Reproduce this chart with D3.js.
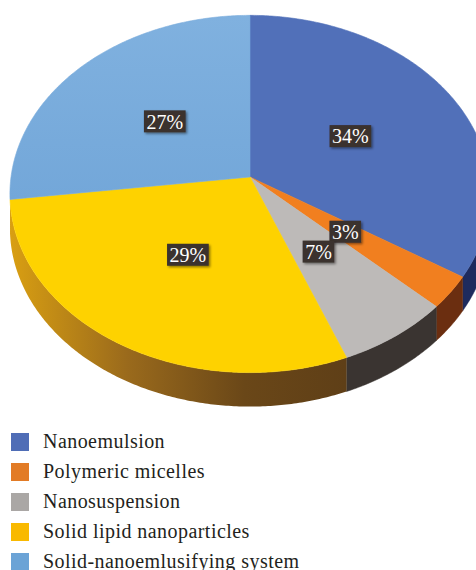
<!DOCTYPE html>
<html>
<head>
<meta charset="utf-8">
<script src="https://cdn.jsdelivr.net/npm/d3@7"></script>
<style>
  html, body { margin: 0; padding: 0; background: #fff; }
  svg { display: block; }
</style>
</head>
<body>
<svg id="chart" width="476" height="570"></svg>
<script>
const categories = ["Nanoemulsion", "Polymeric micelles", "Nanosuspension", "Solid lipid nanoparticles", "Solid-nanoemlusifying system"];
const shares = [34, 3, 7, 29, 27];
const labels = ["34%", "3%", "7%", "29%", "27%"];

const topColors = ["#5170b9", "#f17f1f", "#bdbab8", "#fed200", "#7bacdc"];
const wallColors = ["#1e2b5e", "#6b2e10", "#3a3431", null, null];
const legendColors = ["#4f6db6", "#e27b25", "#aaa7a5", "#f9b900", "#6ba3d6"];

const width = 476;
const height = 570;

const cx = 250;
const cy = 177;
const rx = 239;
const ry = 177;
const persp = 0.095;
const depth = 34;
const labelRadius = 0.49;

const svg = d3.select("#chart");
const defs = svg.append("defs");

const shadow = defs.append("filter")
  .attr("id", "lblShadow")
  .attr("x", "-20%").attr("y", "-20%")
  .attr("width", "150%").attr("height", "160%");
shadow.append("feDropShadow")
  .attr("dx", 1.5).attr("dy", 1.5)
  .attr("stdDeviation", 1.2)
  .attr("flood-color", "#000")
  .attr("flood-opacity", 0.45);

// yellow wall gradient
const yg = defs.append("linearGradient")
  .attr("id", "yellowWall")
  .attr("gradientUnits", "userSpaceOnUse")
  .attr("x1", 10).attr("y1", 0).attr("x2", 345).attr("y2", 0);
yg.append("stop").attr("offset", "0%").attr("stop-color", "#d99f12");
yg.append("stop").attr("offset", "35%").attr("stop-color", "#9a6a1c");
yg.append("stop").attr("offset", "70%").attr("stop-color", "#6a4718");
yg.append("stop").attr("offset", "100%").attr("stop-color", "#5f3f17");

const bg = defs.append("linearGradient")
  .attr("id", "blueTop")
  .attr("x1", 0).attr("y1", 0).attr("x2", 0).attr("y2", 1);
bg.append("stop").attr("offset", "0%").attr("stop-color", "#80b1df");
bg.append("stop").attr("offset", "100%").attr("stop-color", "#73a7d9");

// perspective projection of a point on the disk
function project(theta, r, h) {
  const z = -r * Math.cos(theta);
  const s = 1 / (1 - persp * z);
  return [cx + rx * r * Math.sin(theta) * s, cy + ry * z * s + (h || 0)];
}

function arcPoints(a0, a1, h) {
  const n = Math.max(2, Math.ceil((a1 - a0) / 0.01));
  const pts = [];
  for (let i = 0; i <= n; i++) {
    pts.push(project(a0 + (a1 - a0) * i / n, 1, h));
  }
  return pts;
}

const pie = d3.pie().sort(null).value(function (d) { return d; });
const arcs = pie(shares);

const line = d3.line();

// outer walls (front part only)
const frontStart = Math.PI * 0.55;
const frontEnd = Math.PI * 1.46;

arcs.forEach(function (a, i) {
  const s = Math.max(a.startAngle, frontStart);
  const e = Math.min(a.endAngle, frontEnd);
  if (e <= s) return;
  const topPts = arcPoints(s, e, 0);
  const botPts = arcPoints(s, e, depth).reverse();
  const fill = wallColors[i] ? wallColors[i] : "url(#yellowWall)";
  svg.append("path")
    .attr("d", line(topPts.concat(botPts)) + "Z")
    .attr("fill", fill)
    .attr("stroke", wallColors[i] ? wallColors[i] : "none")
    .attr("stroke-width", 0.5);
});

// top faces
arcs.forEach(function (a, i) {
  const pts = [project(0, 0, 0)].concat(arcPoints(a.startAngle, a.endAngle, 0));
  svg.append("path")
    .attr("d", line(pts) + "Z")
    .attr("fill", i === 4 ? "url(#blueTop)" : topColors[i])
    .attr("stroke", i === 4 ? "#79abdb" : topColors[i])
    .attr("stroke-width", 0.6)
    .attr("stroke-linejoin", "round");
});

// data labels
const lblG = svg.append("g");
arcs.forEach(function (a, i) {
  const mid = (a.startAngle + a.endAngle) / 2;
  const p = project(mid, labelRadius, 0);
  const g = lblG.append("g").attr("transform", "translate(" + p[0] + "," + p[1] + ")");
  const t = g.append("text")
    .attr("text-anchor", "middle")
    .attr("dy", "0.36em")
    .attr("font-family", "'Liberation Serif', 'DejaVu Serif', serif")
    .attr("font-size", 20)
    .attr("fill", "#fff")
    .text(labels[i]);
  const bb = t.node().getBBox();
  g.insert("rect", "text")
    .attr("x", -bb.width / 2 - 2.5)
    .attr("y", -11)
    .attr("width", bb.width + 5)
    .attr("height", 22)
    .attr("fill", "#3a302d")
    .attr("filter", "url(#lblShadow)");
});

// legend
const legend = svg.append("g").attr("transform", "translate(11,433)");
categories.forEach(function (c, i) {
  const row = legend.append("g").attr("transform", "translate(0," + (i * 30) + ")");
  row.append("rect")
    .attr("width", 18)
    .attr("height", 18)
    .attr("fill", legendColors[i]);
  row.append("text")
    .attr("x", 32)
    .attr("y", 15)
    .attr("font-family", "'Liberation Serif', 'DejaVu Serif', serif")
    .attr("font-size", 20)
    .attr("letter-spacing", 0.45)
    .attr("fill", "#231f20")
    .text(c);
});
</script>
</body>
</html>
